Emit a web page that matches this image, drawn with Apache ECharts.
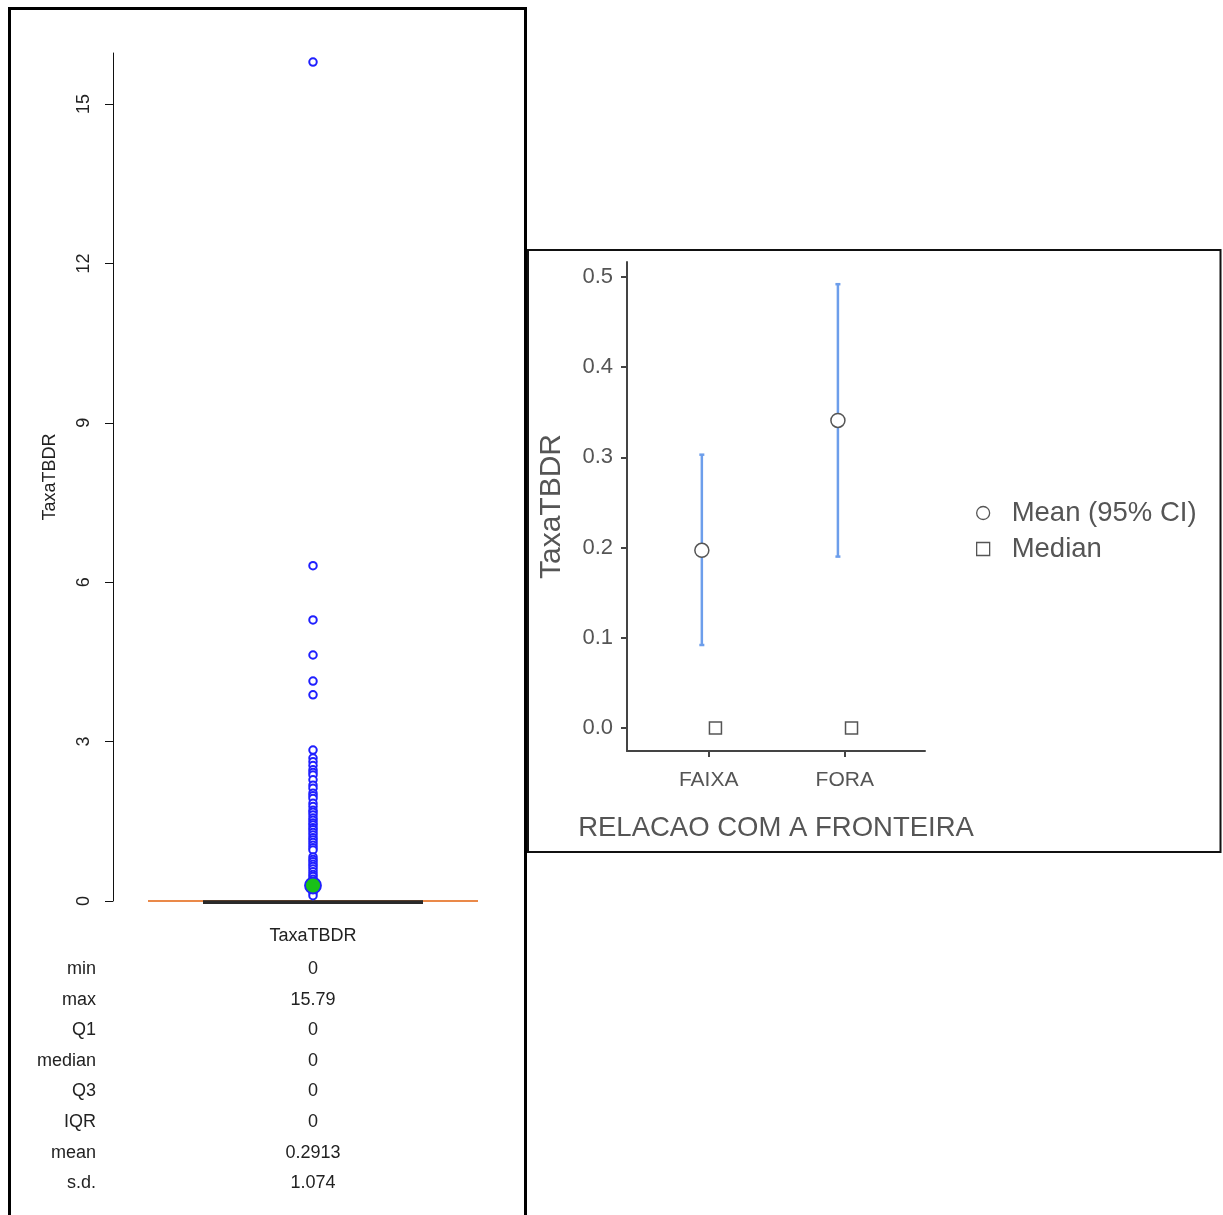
<!DOCTYPE html>
<html>
<head>
<meta charset="utf-8">
<script src="https://cdn.jsdelivr.net/npm/echarts@6/dist/echarts.min.js"></script>
<style>
  html, body { margin: 0; padding: 0; background: #fff; }
  #chart { width: 1223px; height: 1215px; }
</style>
</head>
<body>
<div id="chart"></div>
<script>
// ---------- Left panel data (boxplot of TaxaTBDR) ----------
const leftCategory = ['TaxaTBDR'];
const leftTicks = [0, 3, 6, 9, 12, 15];
// [whiskerLow, Q1, median, Q3, whiskerHigh]
const boxValues = [0, 0, 0, 0, 0];
const outlierValues = [15.79, 6.31, 5.29, 4.63, 4.14, 3.88, 2.84, 2.69, 2.62, 2.55, 2.47, 2.42,
  2.37, 2.28, 2.18, 2.12, 2.03, 1.98, 1.93, 1.84, 1.78, 1.71, 1.67, 1.62, 1.56, 1.52, 1.47,
  1.43, 1.38, 1.34, 1.29, 1.24, 1.19, 1.15, 1.1, 1.05, 1.0, 0.96, 0.83, 0.78, 0.74, 0.69,
  0.65, 0.6, 0.55, 0.5, 0.46, 0.41, 0.36, 0.3, 0.25, 0.2, 0.15, 0.1];
const meanValue = 0.2913;
const statNames = ['min', 'max', 'Q1', 'median', 'Q3', 'IQR', 'mean', 's.d.'];
const statValues = ['0', '15.79', '0', '0', '0', '0', '0.2913', '1.074'];

// ---------- Right panel data (means plot) ----------
const groupCategories = ['FAIXA', 'FORA'];
const groupMeans = [0.197, 0.341];
const ciLower = [0.092, 0.190];
const ciUpper = [0.303, 0.492];
const groupMedians = [0, 0];
const rightTicks = [0, 0.1, 0.2, 0.3, 0.4, 0.5];

const chart = echarts.init(document.getElementById('chart'), null, { renderer: 'canvas' });

const MEAN_DODGE = -0.05, MEDIAN_DODGE = 0.05;
const leftFont = 'Liberation Sans, Arial, sans-serif';
const rightFont = 'Liberation Sans, Arial, sans-serif';
const grey = '#555555';

const option = {
  animation: false,
  backgroundColor: '#ffffff',
  grid: [
    { left: 113, top: 53, width: 400, height: 848 },
    { left: 627, top: 262, width: 298, height: 489 }
  ],
  xAxis: [
    {
      gridIndex: 0, type: 'value', min: 0, max: 2,
      axisLine: { show: false }, splitLine: { show: false },
      axisTick: { show: false },
      axisLabel: {
        customValues: [1], margin: 26, fontSize: 18, color: '#222', fontFamily: leftFont,
        formatter: () => leftCategory[0]
      }
    },
    {
      gridIndex: 1, type: 'value', min: 0.4, max: 2.59,
      axisLine: { onZero: false, lineStyle: { color: '#444', width: 2 } },
      splitLine: { show: false },
      axisTick: { customValues: [1, 2], length: 6, lineStyle: { color: '#444', width: 2 } },
      axisLabel: {
        customValues: [1, 2], margin: 19, fontSize: 21, color: grey, fontFamily: rightFont,
        formatter: v => groupCategories[Math.round(v) - 1]
      },
      name: 'RELACAO COM A FRONTEIRA', nameLocation: 'middle', nameGap: 63,
      nameTextStyle: { fontSize: 27.5, color: grey, fontFamily: rightFont }
    }
  ],
  yAxis: [
    {
      gridIndex: 0, type: 'value', min: 0, max: 15.96,
      axisLine: { show: true, onZero: false, lineStyle: { color: '#111', width: 1 } },
      splitLine: { show: false },
      axisTick: { show: true, customValues: leftTicks, length: 8, lineStyle: { color: '#111', width: 1 } },
      axisLabel: {
        customValues: leftTicks, rotate: 90, margin: 20, fontSize: 18, color: '#222', fontFamily: leftFont
      },
      name: 'TaxaTBDR', nameLocation: 'middle', nameGap: 54, nameRotate: 90,
      nameTextStyle: { fontSize: 18, color: '#222', fontFamily: leftFont }
    },
    {
      gridIndex: 1, type: 'value', min: -0.0255, max: 0.5166,
      axisLine: { show: true, onZero: false, lineStyle: { color: '#444', width: 2 } },
      splitLine: { show: false },
      axisTick: { show: true, customValues: rightTicks, length: 6, lineStyle: { color: '#444', width: 2 } },
      axisLabel: {
        customValues: rightTicks, margin: 14, fontSize: 22, color: grey, fontFamily: rightFont,
        formatter: v => v.toFixed(1)
      },
      name: 'TaxaTBDR', nameLocation: 'middle', nameGap: 60, nameRotate: 90,
      nameTextStyle: { fontSize: 30, color: grey, fontFamily: rightFont }
    }
  ],
  legend: {
    orient: 'vertical', left: 976, top: 499, itemGap: 8, padding: 0,
    itemWidth: 13, itemHeight: 13,
    textStyle: { fontSize: 27.5, color: grey, fontFamily: rightFont, padding: [0, 0, 0, 17] },
    data: [
      { name: 'Mean (95% CI)', icon: 'circle', itemStyle: { color: '#fff', borderColor: grey, borderWidth: 1.3 } },
      { name: 'Median', icon: 'rect', itemStyle: { color: '#fff', borderColor: grey, borderWidth: 1.3 } }
    ]
  },
  series: [
    // ---- left: box (all zero) ----
    {
      type: 'custom', xAxisIndex: 0, yAxisIndex: 0, z: 1,
      data: [[1].concat(boxValues)],
      renderItem: function (params, api) {
        const c = api.value(0);
        const lo = api.value(1), q1 = api.value(2), med = api.value(3), q3 = api.value(4), hi = api.value(5);
        const sw = 0.825, bw = 0.55;
        const pLoL = api.coord([c - sw, lo]), pLoR = api.coord([c + sw, lo]);
        const pHiL = api.coord([c - sw, hi]), pHiR = api.coord([c + sw, hi]);
        const pQ1L = api.coord([c - bw, q1]), pQ3R = api.coord([c + bw, q3]);
        const pMedL = api.coord([c - bw, med]), pMedR = api.coord([c + bw, med]);
        const orange = { stroke: '#e8823e', lineWidth: 1.5 };
        return {
          type: 'group', children: [
            { type: 'line', shape: { x1: pLoL[0], y1: pLoL[1], x2: pLoR[0], y2: pLoR[1] }, style: orange },
            { type: 'line', shape: { x1: pHiL[0], y1: pHiL[1], x2: pHiR[0], y2: pHiR[1] }, style: orange },
            { type: 'rect', shape: { x: pQ1L[0], y: pQ3R[1], width: pQ3R[0] - pQ1L[0], height: pQ1L[1] - pQ3R[1] },
              style: { fill: 'none', stroke: '#222', lineWidth: 1 } },
            { type: 'line', shape: { x1: pMedL[0], y1: pMedL[1] + 1.5, x2: pMedR[0], y2: pMedR[1] + 1.5 },
              style: { stroke: '#2a2a2a', lineWidth: 3 } }
          ]
        };
      }
    },
    // ---- left: outliers ----
    {
      type: 'scatter', xAxisIndex: 0, yAxisIndex: 0, z: 3,
      symbol: 'circle', symbolSize: 7.5,
      itemStyle: { color: '#ffffff', borderColor: '#1f1fff', borderWidth: 2, opacity: 1 },
      data: outlierValues.map(v => [1, v])
    },
    // ---- left: mean ----
    {
      type: 'scatter', xAxisIndex: 0, yAxisIndex: 0, z: 4,
      symbol: 'circle', symbolSize: 16,
      itemStyle: { color: '#19c119', borderColor: '#1f1fff', borderWidth: 1.8, opacity: 1 },
      data: [[1, meanValue]]
    },
    // ---- right: CI error bars ----
    {
      type: 'custom', xAxisIndex: 1, yAxisIndex: 1, z: 2,
      data: groupCategories.map((c, i) => [i + 1 + MEAN_DODGE, ciLower[i], ciUpper[i]]),
      renderItem: function (params, api) {
        const x = api.value(0);
        const lo = api.coord([x, api.value(1)]);
        const hi = api.coord([x, api.value(2)]);
        const st = { stroke: '#6d9eeb', lineWidth: 2.5 };
        const cap = 2.5;
        return {
          type: 'group', children: [
            { type: 'line', shape: { x1: lo[0], y1: lo[1], x2: hi[0], y2: hi[1] }, style: st },
            { type: 'line', shape: { x1: lo[0] - cap, y1: lo[1], x2: lo[0] + cap, y2: lo[1] }, style: st },
            { type: 'line', shape: { x1: hi[0] - cap, y1: hi[1], x2: hi[0] + cap, y2: hi[1] }, style: st }
          ]
        };
      }
    },
    // ---- right: means ----
    {
      name: 'Mean (95% CI)', type: 'scatter', xAxisIndex: 1, yAxisIndex: 1, z: 4,
      symbol: 'circle', symbolSize: 14,
      itemStyle: { color: '#ffffff', borderColor: grey, borderWidth: 1.5, opacity: 1 },
      data: groupMeans.map((m, i) => [i + 1 + MEAN_DODGE, m])
    },
    // ---- right: medians ----
    {
      name: 'Median', type: 'scatter', xAxisIndex: 1, yAxisIndex: 1, z: 4,
      symbol: 'rect', symbolSize: 12,
      itemStyle: { color: '#ffffff', borderColor: grey, borderWidth: 1.5, opacity: 1 },
      data: groupMedians.map((m, i) => [i + 1 + MEDIAN_DODGE, m])
    }
  ]
};

chart.setOption(option);

// ---- frames and statistics table ----
const colX = chart.convertToPixel({ gridIndex: 0 }, [1, 0])[0];
const tableTop = 969, rowStep = 30.6, nameRight = 96;
const graphics = [
  { type: 'rect', z: 100, shape: { x: 9.5, y: 8.5, width: 516, height: 1240 },
    style: { fill: 'none', stroke: '#000', lineWidth: 3 } },
  { type: 'rect', z: 100, shape: { x: 528, y: 250, width: 692.5, height: 602 },
    style: { fill: 'none', stroke: '#111', lineWidth: 2 } }
];
statNames.forEach((n, i) => {
  graphics.push({ type: 'text', z: 100, x: nameRight, y: tableTop + i * rowStep,
    style: { text: n, fontSize: 18, fontFamily: leftFont, fill: '#222', align: 'right', verticalAlign: 'middle' } });
  graphics.push({ type: 'text', z: 100, x: colX, y: tableTop + i * rowStep,
    style: { text: statValues[i], fontSize: 18, fontFamily: leftFont, fill: '#222', align: 'center', verticalAlign: 'middle' } });
});
chart.setOption({ graphic: graphics });
</script>
</body>
</html>
